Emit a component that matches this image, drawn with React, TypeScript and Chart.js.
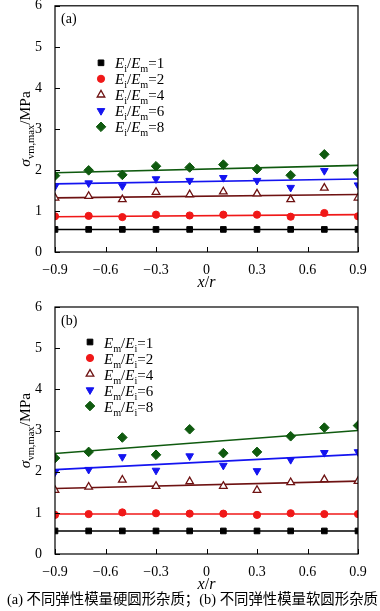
import React, { useEffect, useRef } from 'react';
import { Chart, registerables } from 'chart.js';
import { drawPoint } from 'chart.js/helpers';

Chart.register(...registerables);

const SERIF = "'Liberation Serif', 'Times New Roman', serif";
Chart.defaults.font.family = SERIF;

// ---------- data ----------
const xPositions = [-0.9, -0.7, -0.5, -0.3, -0.1, 0.1, 0.3, 0.5, 0.7, 0.9];
const fitX = [-0.9, 0.9];
const xTickValues = [-0.9, -0.6, -0.3, 0, 0.3, 0.6, 0.9];
const xTickLabels = ['−0.9', '−0.6', '−0.3', '0', '0.3', '0.6', '0.9'];
const yTickValues = [0, 1, 2, 3, 4, 5, 6];
const ratioValues = ['1', '2', '4', '6', '8'];

// panel (a): hard inclusions, Ei/Em
const aRatio1 = [0.55, 0.55, 0.55, 0.55, 0.55, 0.55, 0.55, 0.55, 0.55, 0.55];
const aRatio2 = [0.87, 0.88, 0.85, 0.91, 0.89, 0.91, 0.91, 0.86, 0.95, 0.87];
const aRatio4 = [1.32, 1.36, 1.28, 1.46, 1.4, 1.47, 1.42, 1.28, 1.56, 1.32];
const aRatio6 = [1.6, 1.68, 1.61, 1.78, 1.74, 1.81, 1.74, 1.57, 1.98, 1.63];
const aRatio8 = [1.86, 1.99, 1.88, 2.09, 2.06, 2.13, 2.02, 1.87, 2.38, 1.93];
const aFit1 = [0.55, 0.55];
const aFit2 = [0.86, 0.91];
const aFit4 = [1.32, 1.4];
const aFit6 = [1.66, 1.78];
const aFit8 = [1.93, 2.11];

// panel (b): soft inclusions, Em/Ei
const bRatio1 = [0.56, 0.56, 0.56, 0.56, 0.56, 0.56, 0.56, 0.56, 0.56, 0.56];
const bRatio2 = [0.95, 0.97, 1.01, 0.99, 0.98, 0.98, 0.95, 0.99, 0.97, 0.97];
const bRatio4 = [1.55, 1.63, 1.8, 1.65, 1.76, 1.65, 1.55, 1.74, 1.81, 1.77];
const bRatio6 = [1.99, 2.05, 2.36, 2.03, 2.38, 2.15, 2.02, 2.29, 2.46, 2.48];
const bRatio8 = [2.33, 2.48, 2.83, 2.41, 3.03, 2.45, 2.48, 2.86, 3.07, 3.12];
const bFit1 = [0.56, 0.56];
const bFit2 = [0.97, 0.97];
const bFit4 = [1.59, 1.77];
const bFit6 = [2.05, 2.42];
const bFit8 = [2.44, 3.0];

const captionText = '(a) 不同弹性模量硬圆形杂质；(b) 不同弹性模量软圆形杂质';

// ---------- styles ----------
const seriesStyles = [
  { color: '#000000', fill: '#000000', pointStyle: 'rect', radius: 4, rotation: 0, bw: 1 },
  { color: '#f01818', fill: '#f01818', pointStyle: 'circle', radius: 3.6, rotation: 0, bw: 1 },
  { color: '#6e1212', fill: '#ffffff', pointStyle: 'triangle', radius: 4.4, rotation: 0, bw: 1.3 },
  { color: '#1414f0', fill: '#1414f0', pointStyle: 'triangle', radius: 4.4, rotation: 180, bw: 1 },
  { color: '#0f5a0f', fill: '#0f5a0f', pointStyle: 'rectRot', radius: 4.8, rotation: 0, bw: 1 },
];

type Run = { t: string; italic?: boolean; sub?: boolean };

function runFont(r: Run, base: number) {
  const size = r.sub ? base * 0.68 : base;
  return `${r.italic ? 'italic ' : ''}${size}px ${SERIF}`;
}
function measureRuns(ctx: CanvasRenderingContext2D, runs: Run[], base: number) {
  let w = 0;
  for (const r of runs) {
    ctx.font = runFont(r, base);
    w += ctx.measureText(r.t).width;
  }
  return w;
}
function drawRuns(ctx: CanvasRenderingContext2D, runs: Run[], x: number, baseline: number, base: number) {
  ctx.textBaseline = 'alphabetic';
  ctx.textAlign = 'left';
  let cx = x;
  for (const r of runs) {
    ctx.font = runFont(r, base);
    ctx.fillText(r.t, cx, r.sub ? baseline + base * 0.27 : baseline);
    cx += ctx.measureText(r.t).width;
  }
}

const yTitleRuns: Run[] = [
  { t: 'σ', italic: true },
  { t: 'vm,max', sub: true },
  { t: '/MPa' },
];
const xTitleRuns: Run[] = [{ t: 'x', italic: true }, { t: '/' }, { t: 'r', italic: true }];

function legendRuns(kind: 'a' | 'b', ratio: string): Run[] {
  const first = kind === 'a' ? 'i' : 'm';
  const second = kind === 'a' ? 'm' : 'i';
  return [
    { t: 'E', italic: true },
    { t: first, sub: true },
    { t: '/' },
    { t: 'E', italic: true },
    { t: second, sub: true },
    { t: '=' + ratio },
  ];
}

type PanelProps = {
  top: number;
  height: number;
  padTop: number;
  xAxisHeight: number;
  kind: 'a' | 'b';
  values: number[][];
  fits: number[][];
  legendX: number;
  legendTop: number;
};

function Panel(props: PanelProps) {
  const ref = useRef<HTMLCanvasElement>(null);
  useEffect(() => {
    const { kind, values, fits, padTop, xAxisHeight, legendX, legendTop } = props;
    const datasets: any[] = [];
    values.forEach((vals, i) => {
      const s = seriesStyles[i];
      datasets.push({
        data: fitX.map((x, j) => ({ x, y: fits[i][j] })),
        showLine: true,
        borderColor: s.color,
        borderWidth: 1.6,
        pointRadius: 0,
        clip: 0,
        order: 2,
      });
      datasets.push({
        data: xPositions.map((x, j) => ({ x, y: vals[j] })),
        showLine: false,
        pointStyle: s.pointStyle,
        pointRadius: s.radius,
        pointRotation: s.rotation,
        pointBackgroundColor: s.fill,
        pointBorderColor: s.color,
        pointBorderWidth: s.bw,
        clip: 0,
        order: 1,
      });
    });

    const decor = {
      id: 'decor',
      afterDatasetsDraw(chart: any) {
        const ctx: CanvasRenderingContext2D = chart.ctx;
        const area = chart.chartArea;
        const xs = chart.scales.x;
        const ys = chart.scales.y;
        ctx.save();
        // frame
        ctx.strokeStyle = '#000';
        ctx.lineWidth = 1.2;
        ctx.strokeRect(area.left, area.top, area.right - area.left, area.bottom - area.top);
        // inward ticks
        ctx.lineWidth = 1;
        ctx.beginPath();
        for (const v of xTickValues) {
          const px = Math.round(xs.getPixelForValue(v)) + 0.5;
          ctx.moveTo(px, area.bottom);
          ctx.lineTo(px, area.bottom - 5);
        }
        for (const v of yTickValues) {
          const py = Math.round(ys.getPixelForValue(v)) + 0.5;
          ctx.moveTo(area.left, py);
          ctx.lineTo(area.left + 5, py);
        }
        ctx.stroke();

        ctx.fillStyle = '#000';
        // panel label
        ctx.font = `14px ${SERIF}`;
        ctx.textAlign = 'left';
        ctx.textBaseline = 'middle';
        ctx.fillText(kind === 'a' ? '(a)' : '(b)', area.left + 6, area.top + 14);

        // legend
        ratioValues.forEach((r, i) => {
          const s = seriesStyles[i];
          const cy = area.top + legendTop + i * 16;
          ctx.fillStyle = s.fill;
          ctx.strokeStyle = s.color;
          ctx.lineWidth = s.bw;
          drawPoint(ctx, { pointStyle: s.pointStyle as any, rotation: s.rotation, radius: s.radius, borderWidth: s.bw }, legendX, cy);
          ctx.fillStyle = '#000';
          drawRuns(ctx, legendRuns(kind, r), legendX + 14, cy + 5.5, 15);
        });

        // y title (rotated)
        const yw = measureRuns(ctx, yTitleRuns, 15.5);
        ctx.save();
        ctx.translate(30, (area.top + area.bottom) / 2);
        ctx.rotate(-Math.PI / 2);
        drawRuns(ctx, yTitleRuns, -yw / 2, 0, 15.5);
        ctx.restore();

        // x title
        const xw = measureRuns(ctx, xTitleRuns, 16);
        drawRuns(ctx, xTitleRuns, (area.left + area.right) / 2 - xw / 2, area.bottom + 35, 16);
        ctx.restore();
      },
    };

    const chart = new Chart(ref.current as HTMLCanvasElement, {
      type: 'scatter',
      data: { datasets },
      options: {
        animation: false,
        responsive: false,
        events: [],
        layout: { padding: { left: 0, right: 22, top: padTop, bottom: 0 } },
        plugins: { legend: { display: false }, tooltip: { enabled: false }, title: { display: false } },
        scales: {
          x: {
            type: 'linear',
            min: -0.9,
            max: 0.9,
            grid: { display: false },
            border: { display: false },
            afterBuildTicks: (s: any) => {
              s.ticks = xTickValues.map((v) => ({ value: v }));
            },
            afterFit: (s: any) => {
              s.height = xAxisHeight;
              s.paddingLeft = 0;
              s.paddingRight = 0;
            },
            ticks: {
              autoSkip: false,
              maxRotation: 0,
              padding: 2,
              color: '#000',
              font: { family: SERIF, size: 14 },
              callback: (v: any, i: number) => xTickLabels[i],
            },
          },
          y: {
            type: 'linear',
            min: 0,
            max: 6,
            grid: { display: false },
            border: { display: false },
            afterBuildTicks: (s: any) => {
              s.ticks = yTickValues.map((v) => ({ value: v }));
            },
            afterFit: (s: any) => {
              s.width = 55;
              s.paddingTop = 0;
              s.paddingBottom = 0;
            },
            ticks: {
              padding: 5,
              color: '#000',
              font: { family: SERIF, size: 14 },
              callback: (v: any) => String(v),
            },
          },
        },
      } as any,
      plugins: [decor],
    });
    return () => chart.destroy();
  }, []);
  return (
    <canvas
      ref={ref}
      width={380}
      height={props.height}
      style={{ position: 'absolute', left: 0, top: props.top, width: 380, height: props.height, display: 'block' }}
    />
  );
}

export default function App() {
  return (
    <div style={{ position: 'absolute', left: 0, top: 0, width: 380, height: 611, background: '#fff', overflow: 'hidden' }}>
      <Panel
        top={0}
        height={295}
        padTop={5}
        xAxisHeight={43}
        kind="a"
        values={[aRatio1, aRatio2, aRatio4, aRatio6, aRatio8]}
        fits={[aFit1, aFit2, aFit4, aFit6, aFit8]}
        legendX={101}
        legendTop={57}
      />
      <Panel
        top={295}
        height={300}
        padTop={12}
        xAxisHeight={41}
        kind="b"
        values={[bRatio1, bRatio2, bRatio4, bRatio6, bRatio8]}
        fits={[bFit1, bFit2, bFit4, bFit6, bFit8]}
        legendX={90}
        legendTop={35}
      />
      <div
        style={{
          position: 'absolute',
          left: 7,
          top: 591,
          width: 380,
          whiteSpace: 'nowrap',
          fontFamily: "'Liberation Serif', 'Noto Sans CJK SC', serif",
          fontSize: 14.4,
          lineHeight: '17px',
          color: '#000',
        }}
      >
        {captionText}
      </div>
    </div>
  );
}
